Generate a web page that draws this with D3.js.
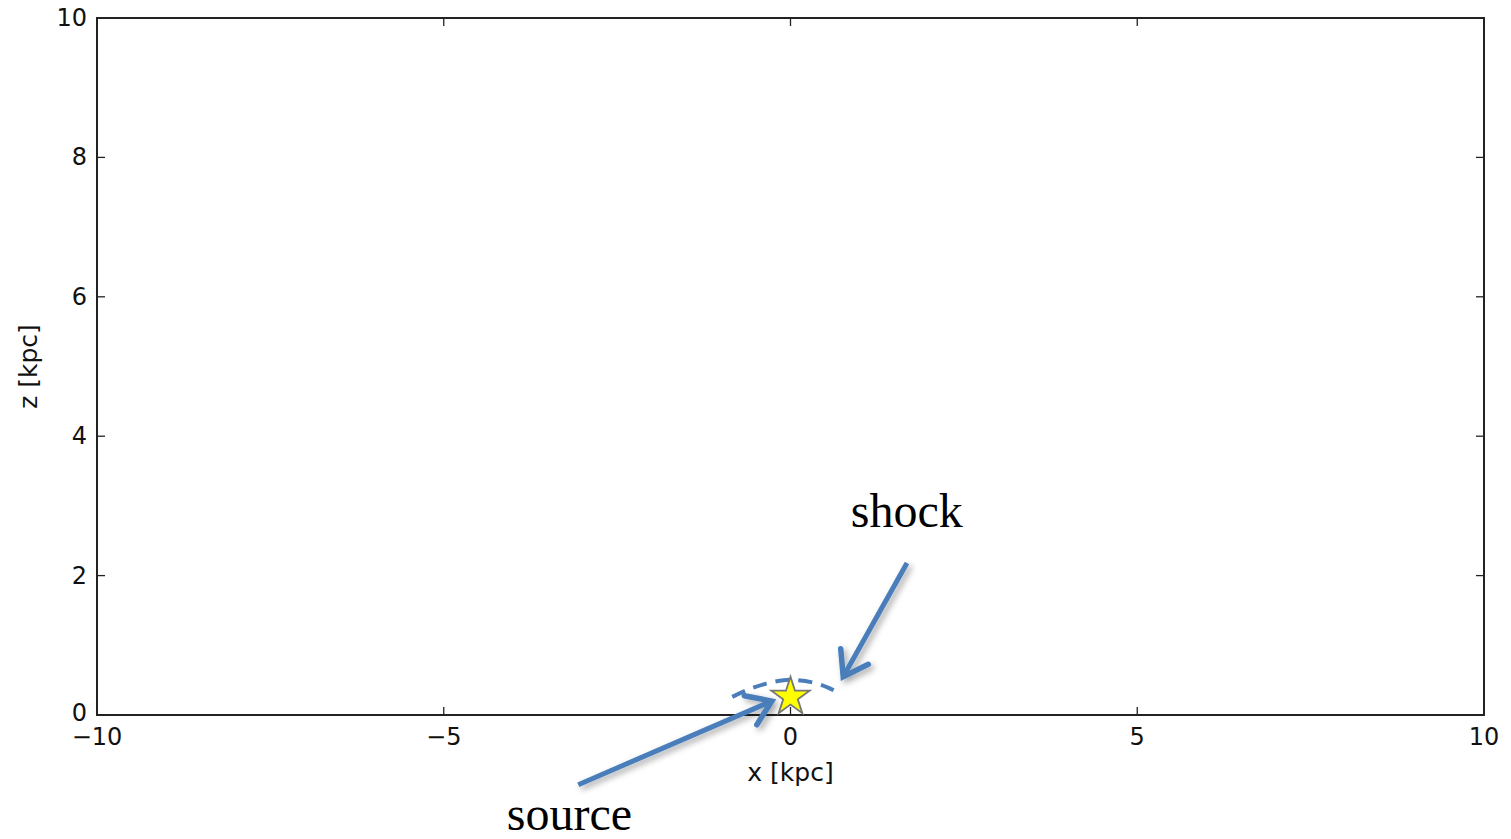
<!DOCTYPE html>
<html>
<head>
<meta charset="utf-8">
<script src="https://cdn.jsdelivr.net/npm/d3@7"></script>
<style>
  html, body { margin: 0; padding: 0; background: #fff; }
  svg { display: block; }
</style>
</head>
<body>
<svg id="chart" width="1511" height="839"></svg>
<script>
// Axis domains and ticks (kpc)
const xDomain = [-10, 10];
const zDomain = [0, 10];
const xTicks = [-10, -5, 0, 5, 10];
const zTicks = [0, 2, 4, 6, 8, 10];

// Source position (star)
const sourceX = [0];
const sourceZ = [0.26];

// Shock front: dashed arc above the source
const shockX = [-0.84, -0.6, -0.35, -0.1, 0.1, 0.35, 0.55, 0.72];
const shockZ = [0.26, 0.37, 0.45, 0.5, 0.5, 0.46, 0.39, 0.3];

// Annotation arrows: start and tip (kpc)
const arrowNames = ["source", "shock"];
const arrowFrom = [[-3.06, -1.0], [1.68, 2.18]];
const arrowTo = [[-0.27, 0.2], [0.76, 0.55]];
// Annotation text anchors (left, baseline)
const labelPos = [[-4.09, -1.65], [0.87, 2.70]];

const svg = d3.select("#chart");
const W = 1511, H = 839;
const margin = { left: 97, right: W - 1484, top: 18, bottom: H - 715 };

const x = d3.scaleLinear().domain(xDomain).range([margin.left, W - margin.right]);
const z = d3.scaleLinear().domain(zDomain).range([H - margin.bottom, margin.top]);

const tickFont = "'DejaVu Sans', sans-serif";
const tickSize = 24;
const labelSize = 25;

// Drop shadow for arrows
const defs = svg.append("defs");
const f = defs.append("filter").attr("id", "shadow")
  .attr("x", "-50%").attr("y", "-50%").attr("width", "200%").attr("height", "200%");
f.append("feDropShadow").attr("dx", 3).attr("dy", 3).attr("stdDeviation", 3)
  .attr("flood-color", "#000").attr("flood-opacity", 0.35);

// Ticks (inward, all four sides)
const tl = 8;
const axisColor = "#222";
const gAxes = svg.append("g");
xTicks.forEach(t => {
  gAxes.append("line").attr("x1", x(t)).attr("x2", x(t))
    .attr("y1", z(0)).attr("y2", z(0) - tl).attr("stroke", axisColor).attr("stroke-width", 1.3);
  gAxes.append("line").attr("x1", x(t)).attr("x2", x(t))
    .attr("y1", z(10)).attr("y2", z(10) + tl).attr("stroke", axisColor).attr("stroke-width", 1.3);
  gAxes.append("text").attr("x", x(t)).attr("y", z(0) + 30)
    .attr("text-anchor", "middle").attr("font-family", tickFont).attr("font-size", tickSize)
    .attr("fill", "#111").text(t < 0 ? "\u2212" + Math.abs(t) : String(t));
});
zTicks.forEach(t => {
  gAxes.append("line").attr("x1", x(-10)).attr("x2", x(-10) + tl)
    .attr("y1", z(t)).attr("y2", z(t)).attr("stroke", axisColor).attr("stroke-width", 1.3);
  gAxes.append("line").attr("x1", x(10)).attr("x2", x(10) - tl)
    .attr("y1", z(t)).attr("y2", z(t)).attr("stroke", axisColor).attr("stroke-width", 1.3);
  gAxes.append("text").attr("x", x(-10) - 10).attr("y", z(t) + (t === 0 ? 6 : 8))
    .attr("text-anchor", "end").attr("font-family", tickFont).attr("font-size", tickSize)
    .attr("fill", "#111").text(String(t));
});

// Frame
svg.append("rect").attr("x", x(-10)).attr("y", z(10))
  .attr("width", x(10) - x(-10)).attr("height", z(0) - z(10))
  .attr("fill", "none").attr("stroke", axisColor).attr("stroke-width", 2);

// Axis labels
svg.append("text").attr("x", x(0)).attr("y", z(0) + 66)
  .attr("text-anchor", "middle").attr("font-family", tickFont).attr("font-size", labelSize)
  .attr("fill", "#111").text("x [kpc]");
svg.append("text")
  .attr("transform", `translate(37,${(z(0) + z(10)) / 2}) rotate(-90)`)
  .attr("text-anchor", "middle").attr("font-family", tickFont).attr("font-size", labelSize)
  .attr("fill", "#111").text("z [kpc]");

const blue = "#4A7EBB";

// Shock front
const shockLine = d3.line().x(d => x(d[0])).y(d => z(d[1])).curve(d3.curveCatmullRom);
svg.append("path").datum(shockX.map((v, i) => [v, shockZ[i]]))
  .attr("d", shockLine).attr("fill", "none").attr("stroke", blue)
  .attr("stroke-width", 4).attr("stroke-dasharray", "14,9");

// Source star
const star = d3.symbol().type(d3.symbolStar).size(455);
svg.selectAll("path.star").data(sourceX.map((v, i) => [v, sourceZ[i]]))
  .join("path").attr("class", "star")
  .attr("transform", d => `translate(${x(d[0])},${z(d[1])})`)
  .attr("d", star).attr("fill", "#FFFF00").attr("stroke", "#777").attr("stroke-width", 1.8);

// Annotation arrows with open heads
const gArrows = svg.append("g").attr("filter", "url(#shadow)");
arrowNames.forEach((name, i) => {
  const x0 = x(arrowFrom[i][0]), y0 = z(arrowFrom[i][1]);
  const x1 = x(arrowTo[i][0]), y1 = z(arrowTo[i][1]);
  const ang = Math.atan2(y1 - y0, x1 - x0);
  const hl = 28, ha = 0.6;
  const p1 = [x1 - hl * Math.cos(ang - ha), y1 - hl * Math.sin(ang - ha)];
  const p2 = [x1 - hl * Math.cos(ang + ha), y1 - hl * Math.sin(ang + ha)];
  gArrows.append("line").attr("x1", x0).attr("y1", y0)
    .attr("x2", x1 - 2 * Math.cos(ang)).attr("y2", y1 - 2 * Math.sin(ang))
    .attr("stroke", blue).attr("stroke-width", 5);
  gArrows.append("path")
    .attr("d", `M${p1[0]},${p1[1]}L${x1},${y1}L${p2[0]},${p2[1]}`)
    .attr("fill", "none").attr("stroke", blue).attr("stroke-width", 5.5)
    .attr("stroke-linecap", "round").attr("stroke-linejoin", "miter");
});

// Annotation labels
arrowNames.forEach((name, i) => {
  svg.append("text").attr("x", x(labelPos[i][0])).attr("y", z(labelPos[i][1]))
    .attr("font-family", "'Liberation Serif', 'DejaVu Serif', serif").attr("font-size", 48)
    .attr("fill", "#000").text(name);
});
</script>
</body>
</html>
